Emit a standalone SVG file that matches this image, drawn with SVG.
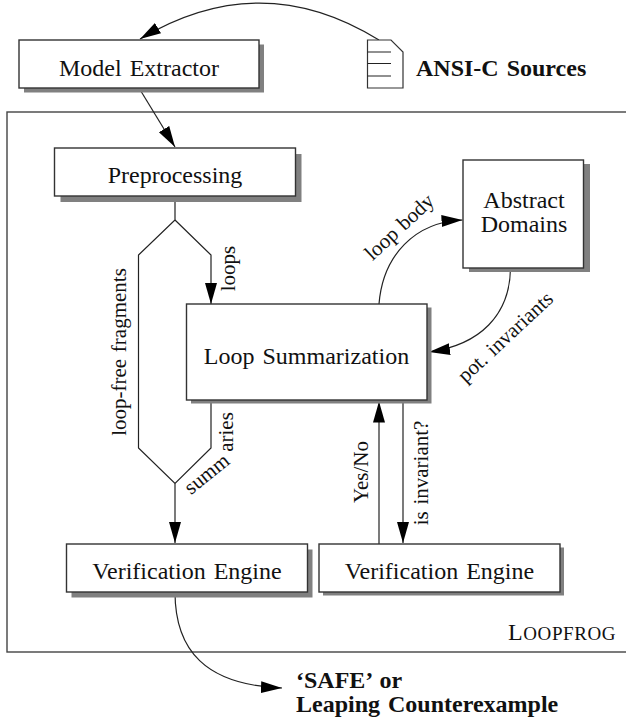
<svg xmlns="http://www.w3.org/2000/svg" width="626" height="719" viewBox="0 0 626 719">
<style>
text{font-family:"Liberation Serif","Times New Roman",serif;font-size:24px;fill:#111;text-anchor:middle;word-spacing:2px}
.b{font-weight:bold;text-anchor:start}
.l{font-size:21px;word-spacing:1.500px}
.box{fill:#fff;stroke:#333;stroke-width:1.4}
.sh{fill:#808080}
.c{fill:none;stroke:#222;stroke-width:1.2}
</style>
<defs><marker id="a" markerUnits="userSpaceOnUse" markerWidth="24" markerHeight="14" refX="21" refY="6" orient="auto"><path d="M0 0L21 6L0 12Z" fill="#000"/></marker></defs>
<rect id="frame" x="7" y="112" width="640" height="540" fill="none" stroke="#444" stroke-width="1.400"/>
<g id="connectors">
<path class="c" marker-end="url(#a)" d="M379 40C300 -9 220 -9 140 39"/>
<path class="c" marker-end="url(#a)" d="M139 88L175 147"/>
<path class="c" d="M175 196V220L138.500 255V448L175 483.500L211 448V400"/>
<path class="c" marker-end="url(#a)" d="M175 220L211 255V304"/>
<path class="c" marker-end="url(#a)" d="M175 483.500V543"/>
<path class="c" marker-end="url(#a)" d="M379 304C383 255 415 222 462.500 220"/>
<path class="c" marker-end="url(#a)" d="M510.500 268C510 315 480 345 429 352"/>
<path class="c" marker-end="url(#a)" d="M379 544V401.500"/>
<path class="c" marker-end="url(#a)" d="M403 400V543"/>
<path class="c" marker-end="url(#a)" d="M175 592C175 650 205 685 282 688"/>
</g>
<g id="model-extractor"><rect class="sh" x="24" y="44.500" width="240" height="48"/><rect class="box" x="19" y="40" width="240" height="48"/><text x="139" y="76">Model Extractor</text></g>
<g id="sources"><path d="M367.500 40H391L403 52V88H367.500Z" fill="#fff" stroke="#333" stroke-width="1.200"/><path class="c" d="M367.500 52H391M367.500 63.500H391M367.500 76H391"/><text class="b" x="416" y="76">ANSI-C Sources</text></g>
<g id="preprocessing"><rect class="sh" x="60.500" y="154" width="241" height="48"/><rect class="box" x="54.500" y="148" width="241" height="48"/><text x="175" y="183">Preprocessing</text></g>
<g id="abstract-domains"><rect class="sh" x="469" y="164" width="121" height="108"/><rect class="box" x="463" y="160" width="120.500" height="108"/><text x="524" y="208">Abstract</text><text x="524" y="232">Domains</text></g>
<g id="loop-summarization"><rect class="sh" x="191" y="307.500" width="240.500" height="96"/><rect class="box" x="186.500" y="304" width="240.500" height="96"/><text x="306.500" y="364">Loop Summarization</text></g>
<g id="verification-engine-1"><rect class="sh" x="71.500" y="549.500" width="241" height="48"/><rect class="box" x="66.500" y="544" width="241" height="48"/><text x="187" y="579">Verification Engine</text></g>
<g id="verification-engine-2"><rect class="sh" x="323" y="547.500" width="241" height="48"/><rect class="box" x="319" y="544" width="241" height="48"/><text x="439.500" y="579">Verification Engine</text></g>
<g id="labels">
<text class="l" transform="translate(126 352) rotate(-90)">loop-free fragments</text>
<text class="l" transform="translate(235 268.500) rotate(-90)">loops</text>
<text class="l" transform="translate(232.500 432) rotate(-90)">aries</text>
<text class="l" transform="translate(211 479) rotate(-39)">summ</text>
<text class="l" transform="translate(368 472) rotate(-90)">Yes/No</text>
<text class="l" transform="translate(428 473) rotate(-90)">is invariant?</text>
<text class="l" transform="translate(404 232) rotate(-43)">loop body</text>
<text class="l" transform="translate(510 342) rotate(-43)">pot. invariants</text>
<text x="508" y="640" style="text-anchor:start;letter-spacing:.6px">L<tspan font-size="19">OOPFROG</tspan></text>
</g>
<g id="result"><text class="b" x="296" y="688">‘SAFE’ or</text><text class="b" x="296" y="712">Leaping Counterexample</text></g>
</svg>
